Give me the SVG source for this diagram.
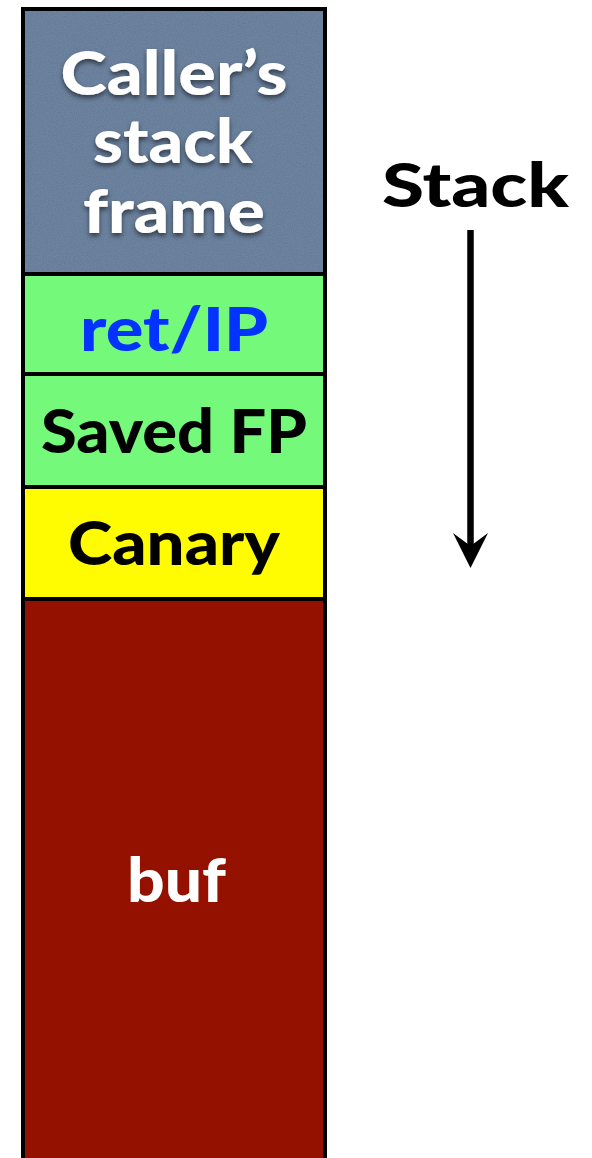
<svg xmlns="http://www.w3.org/2000/svg" width="592" height="1158" viewBox="0 0 592 1158">
  <style>
    .cell { stroke: #000; stroke-width: 4; }
    .lbl { font-family: Lato, "Open Sans", "DejaVu Sans", sans-serif; font-weight: 900; font-size: 60px; text-anchor: middle; }
    .white { fill: #ffffff; }
    .black { fill: #000000; }
    .blue { fill: #0433ff; }
    .arrow { stroke: #000; stroke-width: 6.5; fill: none; }
    .arrowhead { fill: #000; stroke: none; }
  </style>
  <defs>
    <filter id="noise" x="0" y="0" width="100%" height="100%">
      <feTurbulence type="fractalNoise" baseFrequency="0.9" numOctaves="2" seed="3" result="n"/>
      <feColorMatrix in="n" type="matrix" values="0 0 0 0 0.5  0 0 0 0 0.55  0 0 0 0 0.62  0 0 0 0.18 0" result="nc"/>
      <feComposite in="nc" in2="SourceGraphic" operator="in" result="nclip"/>
      <feMerge><feMergeNode in="SourceGraphic"/><feMergeNode in="nclip"/></feMerge>
    </filter>
    <filter id="shadow" x="-10%" y="-20%" width="120%" height="150%">
      <feDropShadow dx="0" dy="3" stdDeviation="2.5" flood-color="#000" flood-opacity="0.55"/>
    </filter>
  </defs>

  <g id="caller-frame">
    <rect x="23" y="9" width="302" height="265" fill="#5d7796" filter="url(#noise)"/>
    <rect x="23" y="9" width="302" height="265" fill="none" stroke="#000" stroke-width="4"/>
    <g filter="url(#shadow)">
      <text class="lbl white" x="174" y="95" textLength="227" lengthAdjust="spacingAndGlyphs">Caller’s</text>
      <text class="lbl white" x="173" y="163" textLength="160" lengthAdjust="spacingAndGlyphs">stack</text>
      <text class="lbl white" x="174" y="233" textLength="182" lengthAdjust="spacingAndGlyphs">frame</text>
    </g>
  </g>

  <g id="ret-ip">
    <rect class="cell" x="23" y="274" width="302" height="100" fill="#74f97b"/>
    <text class="lbl blue" x="174" y="351" textLength="188" lengthAdjust="spacingAndGlyphs">ret/IP</text>
  </g>

  <g id="saved-fp">
    <rect class="cell" x="23" y="374" width="302" height="113" fill="#74f97b"/>
    <text class="lbl black" x="174" y="453" textLength="266" lengthAdjust="spacingAndGlyphs">Saved FP</text>
  </g>

  <g id="canary">
    <rect class="cell" x="23" y="487" width="302" height="112" fill="#fffb00"/>
    <text class="lbl black" x="174" y="565" textLength="212" lengthAdjust="spacingAndGlyphs">Canary</text>
  </g>

  <g id="buf">
    <rect class="cell" x="23" y="599" width="302" height="561" fill="#941100"/>
    <text class="lbl white" x="176.5" y="902" textLength="99" lengthAdjust="spacingAndGlyphs">buf</text>
  </g>

  <g id="stack-label">
    <text class="lbl black" x="475.5" y="207" font-size="63" textLength="187" lengthAdjust="spacingAndGlyphs">Stack</text>
  </g>

  <g id="connectors">
    <line class="arrow" x1="470.5" y1="230" x2="470.5" y2="550"/>
    <path class="arrowhead" d="M453,533 L470.5,568 L488,533 L470.5,546 Z"/>
  </g>
</svg>
